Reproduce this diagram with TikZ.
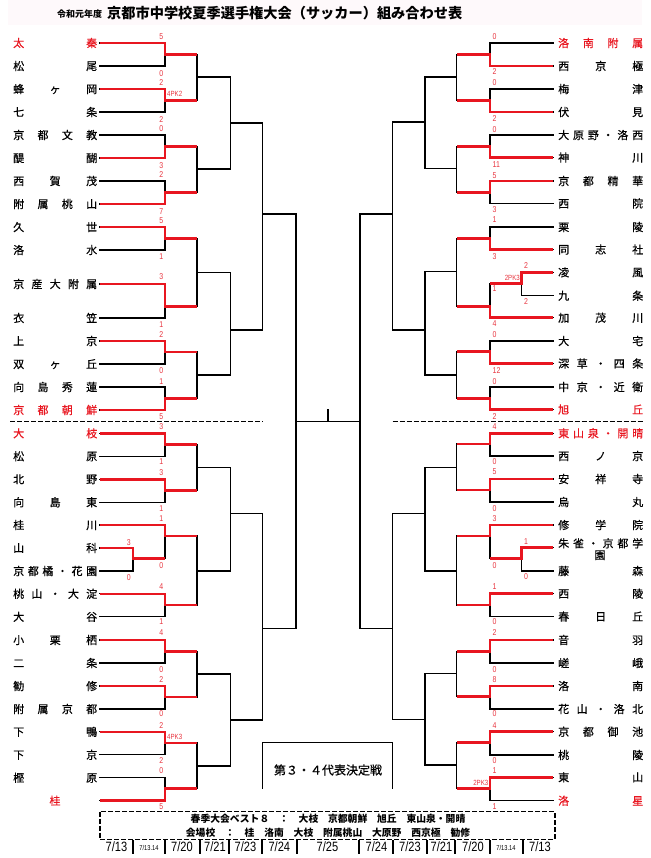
\documentclass[tikz,border=0pt]{standalone}
\usepackage{fontspec}
\setmainfont{Noto Sans CJK JP}
\newfontfamily\jpn[FakeBold=0.5]{Noto Sans CJK JP}
\newfontfamily\narrow[FakeStretch=0.82]{Liberation Sans}
\definecolor{rdc}{RGB}{232,22,32}
\definecolor{scc}{RGB}{232,55,65}
\definecolor{titlebg}{RGB}{254,249,251}
\makeatletter
\def\spr#1{\spr@a#1\@nil}
\def\spr@a#1{#1\spr@b}
\def\spr@b#1{\ifx\@nil#1\else\hfill#1\expandafter\spr@b\fi}
\makeatother
\newcommand\LN[3][black]{\node[nm,text=#1,anchor=west] at (13,#2) {\makebox[84pt][s]{\spr{#3}}};}
\newcommand\RN[3][black]{\node[nm,text=#1,anchor=west] at (558,#2) {\makebox[85pt][s]{\spr{#3}}};}
% left match: ytop ybot ymid winner xtop xbot
\newcommand\LM[6]{%
  \draw[bk] (#5,#1) -| (165,#2) -- (#6,#2);
  \ifnum#4=1 \draw[rd] (#5,#1) -| (165,#3) -- (197,#3);
  \else \draw[rd] (#6,#2) -| (165,#3) -- (197,#3); \fi}
\newcommand\RM[6]{%
  \draw[bk] (#5,#1) -| (490,#2) -- (#6,#2);
  \ifnum#4=1 \draw[rd] (#5,#1) -| (490,#3) -- (456.7,#3);
  \else \draw[rd] (#6,#2) -| (490,#3) -- (456.7,#3); \fi}
\newcommand\SL[3][163.5]{\node[sc,anchor=east] at (#1,#2) {#3};}
\newcommand\SR[3][492.5]{\node[sc,anchor=west] at (#1,#2) {#3};}
\begin{document}
\begin{tikzpicture}[x=1pt,y=-1pt,
  bk/.style={line width=1.3pt,black,line cap=rect},
  rd/.style={line width=2.6pt,rdc},
  nm/.style={font=\jpn\fontsize{11}{11}\selectfont,inner sep=0pt,text height=8.8pt,text depth=0.4pt},
  sc/.style={font=\narrow\fontsize{8.5}{8.5}\selectfont,text=scc,inner sep=0pt,text height=6.1pt,text depth=0pt},
  pk/.style={font=\narrow\fontsize{7.5}{7.5}\selectfont,text=scc,inner sep=0pt,text height=5.4pt,text depth=0pt},
  dt/.style={font=\narrow\fontsize{13.5}{13.5}\selectfont,inner sep=0pt,text height=9.7pt,text depth=0pt},
  dts/.style={font=\narrow\fontsize{7}{7}\selectfont,inner sep=0pt,text height=5pt,text depth=0pt},
  dsh/.style={line width=1.4pt,dash pattern=on 5pt off 2pt}]
\useasboundingbox (0,0) rectangle (650,858);
% title
\fill[titlebg] (8,0) rectangle (642,25);
\node[font=\bfseries\fontsize{9}{9}\selectfont,anchor=west,inner sep=0pt,text height=7.2pt,text depth=0.4pt] (tsub) at (57,14) {令和元年度};
\node[font=\bfseries\fontsize{14.2}{14.2}\selectfont,anchor=west,inner sep=0pt,text height=11.4pt,text depth=0.6pt] (title) at (107,13.5) {京都市中学校夏季選手権大会（サッカー）組み合わせ表};
% ---------- left structure R2+
\draw[bk] (197,54.5) -- (197,100.5) (197,77) -- (230.7,77);
\draw[bk] (197,146.5) -- (197,192.5) (197,169) -- (230.7,169);
\draw[bk] (197,238.5) -- (197,306.7) (197,272.5) -- (230.7,272.5);
\draw[bk] (197,352) -- (197,398.5) (197,375) -- (230.7,375);
\draw[bk] (230.7,77) -- (230.7,169) (230.7,123) -- (262.7,123);
\draw[bk] (230.7,272.5) -- (230.7,375) (230.7,330) -- (262.7,330);
\draw[bk] (262.7,123) -- (262.7,330) (262.7,214) -- (296,214);
\draw[bk] (197,444.5) -- (197,490.5) (197,467.7) -- (230.7,467.7);
\draw[bk] (197,536) -- (197,605) (197,571) -- (230.7,571);
\draw[bk] (197,651.7) -- (197,697) (197,674) -- (230.7,674);
\draw[bk] (197,743) -- (197,788.5) (197,766) -- (230.7,766);
\draw[bk] (230.7,467.7) -- (230.7,571) (230.7,513.3) -- (262.7,513.3);
\draw[bk] (230.7,674) -- (230.7,766) (230.7,720) -- (262.7,720);
\draw[bk] (262.7,513.3) -- (262.7,720) (262.7,628.3) -- (296,628.3);
\draw[bk] (296,214) -- (296,628.3);
% center
\draw[bk] (296,421.7) -- (360,421.7) (328,410) -- (328,421.7);
% ---------- right structure R2+
\draw[bk] (456.7,54.5) -- (456.7,100.5) (456.7,77) -- (425,77);
\draw[bk] (456.7,146.5) -- (456.7,192.3) (456.7,168.3) -- (425,168.3);
\draw[bk] (456.7,238.3) -- (456.7,306.7) (456.7,271.7) -- (425,271.7);
\draw[bk] (456.7,351.7) -- (456.7,398.3) (456.7,375) -- (425,375);
\draw[bk] (425,77) -- (425,168.3) (425,122) -- (392.7,122);
\draw[bk] (425,271.7) -- (425,375) (425,330) -- (392.7,330);
\draw[bk] (392.7,122) -- (392.7,330) (392.7,214) -- (360,214);
\draw[bk] (456.7,444) -- (456.7,490) (456.7,467.7) -- (425,467.7);
\draw[bk] (456.7,536) -- (456.7,605) (456.7,571) -- (425,571);
\draw[bk] (456.7,651.7) -- (456.7,696.7) (456.7,673.3) -- (425,673.3);
\draw[bk] (456.7,742.7) -- (456.7,788.3) (456.7,765) -- (425,765);
\draw[bk] (425,467.7) -- (425,571) (425,513.3) -- (392.7,513.3);
\draw[bk] (425,673.3) -- (425,765) (425,719.3) -- (392.7,719.3);
\draw[bk] (392.7,513.3) -- (392.7,719.3) (392.7,628.3) -- (360,628.3);
\draw[bk] (360,214) -- (360,628.3);
% dashed separators
\draw[dsh] (10,421.7) -- (262.7,421.7);
\draw[dsh] (392.7,421.7) -- (643,421.7);
% ---------- left matches
\LM{43}{66}{54.5}{1}{100}{100}
\LM{89}{112}{100.5}{1}{100}{100}
\LM{135}{158}{146.5}{2}{100}{100}
\LM{181}{204}{192.5}{2}{100}{100}
\LM{227}{250}{238.5}{1}{100}{100}
\LM{284}{318}{306.7}{1}{100}{100}
\LM{341}{364}{352}{1}{100}{100}
\LM{387}{410}{398.5}{2}{100}{100}
\LM{433.3}{456.2}{444.5}{1}{100}{100}
\LM{479.2}{502.2}{490.5}{1}{100}{100}
\LM{525}{558.3}{536}{1}{100}{133}
\draw[bk] (100,548) -| (133,571) -- (100,571);
\draw[rd] (100,548) -| (133,558.3) -- (165,558.3);
\LM{593.8}{616.8}{605}{1}{100}{100}
\LM{640}{663}{651.7}{1}{100}{100}
\LM{686}{709}{697}{1}{100}{100}
\LM{731.8}{754.8}{743}{1}{100}{100}
\LM{777.7}{800.7}{788.5}{2}{100}{100}
% ---------- right matches
\RM{43}{66}{54.5}{2}{553}{553}
\RM{89}{112}{100.5}{2}{553}{553}
\RM{135}{157.5}{146.5}{2}{553}{553}
\RM{181}{203.5}{192.3}{1}{553}{553}
\RM{227}{249.5}{238.3}{2}{553}{553}
\RM{283.3}{317.7}{306.7}{2}{521.7}{553}
\draw[bk] (553,272.3) -| (521.7,295.7) -- (553,295.7);
\draw[rd] (553,272.3) -| (521.7,283.3) -- (490,283.3);
\RM{341}{363.5}{351.7}{2}{553}{553}
\RM{387}{409.5}{398.3}{2}{553}{553}
\RM{433.3}{456}{444}{1}{553}{553}
\RM{479}{502}{490}{1}{553}{553}
\RM{525}{558.3}{536}{1}{553}{521.7}
\draw[bk] (553,547.7) -| (521.7,571) -- (553,571);
\draw[rd] (553,547.7) -| (521.7,558.3) -- (490,558.3);
\RM{593.6}{616.5}{605}{1}{553}{553}
\RM{640}{663}{651.7}{1}{553}{553}
\RM{686}{709}{696.7}{1}{553}{553}
\RM{731.7}{755}{742.7}{1}{553}{553}
\RM{777.3}{800.7}{788.3}{1}{553}{553}
% ---------- left names
\LN[rdc]{43}{太秦}
\LN{66}{松尾}
\LN{89}{蜂ヶ岡}
\LN{112}{七条}
\LN{135}{京都文教}
\LN{158}{醍醐}
\LN{181}{西賀茂}
\LN{204}{附属桃山}
\LN{227}{久世}
\LN{250}{洛水}
\LN{284}{京産大附属}
\LN{318}{衣笠}
\LN{341}{上京}
\LN{364}{双ヶ丘}
\LN{387}{向島秀蓮}
\LN[rdc]{410}{京都朝鮮}
\LN[rdc]{433.3}{大枝}
\LN{456.2}{松原}
\LN{479.2}{北野}
\LN{502.2}{向島東}
\LN{525}{桂川}
\LN{548}{山科}
\LN{571}{京都橘・花園}
\LN{593.8}{桃山・大淀}
\LN{616.8}{大谷}
\LN{640}{小栗栖}
\LN{663}{二条}
\LN{686}{勧修}
\LN{709}{附属京都}
\LN{731.8}{下鴨}
\LN{754.8}{下京}
\LN{777.7}{樫原}
\node[nm,text=rdc] (katsura) at (55,800.7) {桂};
% ---------- right names
\RN[rdc]{43}{洛南附属}
\RN{66}{西京極}
\RN{89}{梅津}
\RN{112}{伏見}
\RN{135}{大原野・洛西}
\RN{157.5}{神川}
\RN{181}{京都精華}
\RN{203.5}{西院}
\RN{227}{栗陵}
\RN{249.5}{同志社}
\RN{272.3}{凌風}
\RN{295.7}{九条}
\RN{317.7}{加茂川}
\RN{341}{大宅}
\RN{363.5}{深草・四条}
\RN{387}{中京・近衛}
\RN[rdc]{409.5}{旭丘}
\RN[rdc]{433.3}{東山泉・開晴}
\RN{456}{西ノ京}
\RN{479}{安祥寺}
\RN{502}{烏丸}
\RN{525}{修学院}
\RN{543.3}{朱雀・京都学}
\node[nm] (en) at (600,555) {園};
\RN{571}{藤森}
\RN{593.6}{西陵}
\RN{616.5}{春日丘}
\RN{640}{音羽}
\RN{663}{嵯峨}
\RN{686}{洛南}
\RN{709}{花山・洛北}
\RN{731.7}{京都御池}
\RN{755}{桃陵}
\RN{777.3}{東山}
\RN[rdc]{800.7}{洛星}
% ---------- left scores
\SL{36}{5}\SL{73}{0}\SL{82.5}{2}\SL{119}{2}
\node[pk,anchor=west] at (167,94) {4PK2};
\SL{128}{0}\SL{165}{3}\SL{174}{2}\SL{211}{7}
\SL{220}{5}\SL{256.7}{1}\SL{276.7}{3}\SL{324.3}{1}
\SL{334.3}{2}\SL{370.7}{0}\SL{381}{1}\SL{416.7}{5}
\SL{426}{3}\SL{461.7}{1}\SL{472.7}{3}\SL{508.3}{1}
\SL{518.3}{1}\SL{565}{0}
\SL[131]{542}{3}\SL[131]{577}{0}
\SL{586.7}{4}\SL{621.7}{1}
\SL{632.5}{4}\SL{669}{0}\SL{679}{2}\SL{713.5}{0}
\SL{725}{2}\SL{760}{2}
\node[pk,anchor=west] at (167,736.7) {4PK3};
\SL{770.7}{0}\SL{806.7}{5}
% ---------- right scores
\SR{36}{0}\SR{71.7}{2}\SR{82.7}{0}\SR{118.3}{2}
\SR{129}{0}\SR{164.3}{11}\SR{175}{5}\SR{209.3}{3}
\SR{219.3}{1}\SR{256.7}{3}
\SR[524]{265.7}{2}\SR[524]{301}{2}
\node[pk,anchor=east] at (520,277.7) {2PK3};
\SR{288.5}{1}\SR{323.3}{4}
\SR{334.3}{0}\SR{370.7}{12}\SR{381}{0}\SR{416}{2}
\SR{426}{4}\SR{461.7}{0}\SR{471.7}{5}\SR{508.3}{0}
\SR{518.3}{3}\SR{565}{0}
\SR[524]{541.7}{1}\SR[524]{576.5}{0}
\SR{586.7}{1}\SR{621.7}{0}
\SR{632.7}{2}\SR{669.3}{0}\SR{679.3}{8}\SR{713.3}{0}
\SR{725}{4}\SR{760}{0}\SR{770.7}{1}\SR{806.7}{1}
\node[pk,anchor=east] at (488.5,782.7) {2PK3};
% ---------- 3rd/4th box
\draw[bk] (262.7,788.3) -- (262.7,742.7) -- (392.7,742.7) -- (392.7,788.3);
\node[font=\jpn\fontsize{12}{12}\selectfont,inner sep=0pt] (third) at (328,770) {第３・４代表決定戦};
% ---------- bottom info
\draw[dsh] (100,811.7) rectangle (555,839.3);
\node[font=\bfseries\fontsize{9.8}{9.8}\selectfont,inner sep=0pt] (best8) at (328,818.5) {春季大会ベスト８　：　大枝　京都朝鮮　旭丘　東山泉・開晴};
\node[font=\bfseries\fontsize{9.8}{9.8}\selectfont,inner sep=0pt] (venue) at (328,832.3) {会場校　：　桂　洛南　大枝　附属桃山　大原野　西京極　勧修};
\foreach \x in {132.7,165,200,229.3,261.7,297.3,359.3,393.3,426.7,455,490,523.3}
  \draw[line width=2pt] (\x,840) -- (\x,853.5);
\node[dt] at (116.5,846.7) {7/13};
\node[dts] at (149,847.5) {7/13.14};
\node[dt] at (182,846.7) {7/20};
\node[dt] at (215,846.7) {7/21};
\node[dt] at (245.5,846.7) {7/23};
\node[dt] at (279.3,846.7) {7/24};
\node[dt] at (327.5,846.7) {7/25};
\node[dt] at (376.5,846.7) {7/24};
\node[dt] at (410,846.7) {7/23};
\node[dt] at (441.5,846.7) {7/21};
\node[dt] at (473,846.7) {7/20};
\node[dts] at (506,847.5) {7/13.14};
\node[dt] at (540,846.7) {7/13};
\end{tikzpicture}
\end{document}
